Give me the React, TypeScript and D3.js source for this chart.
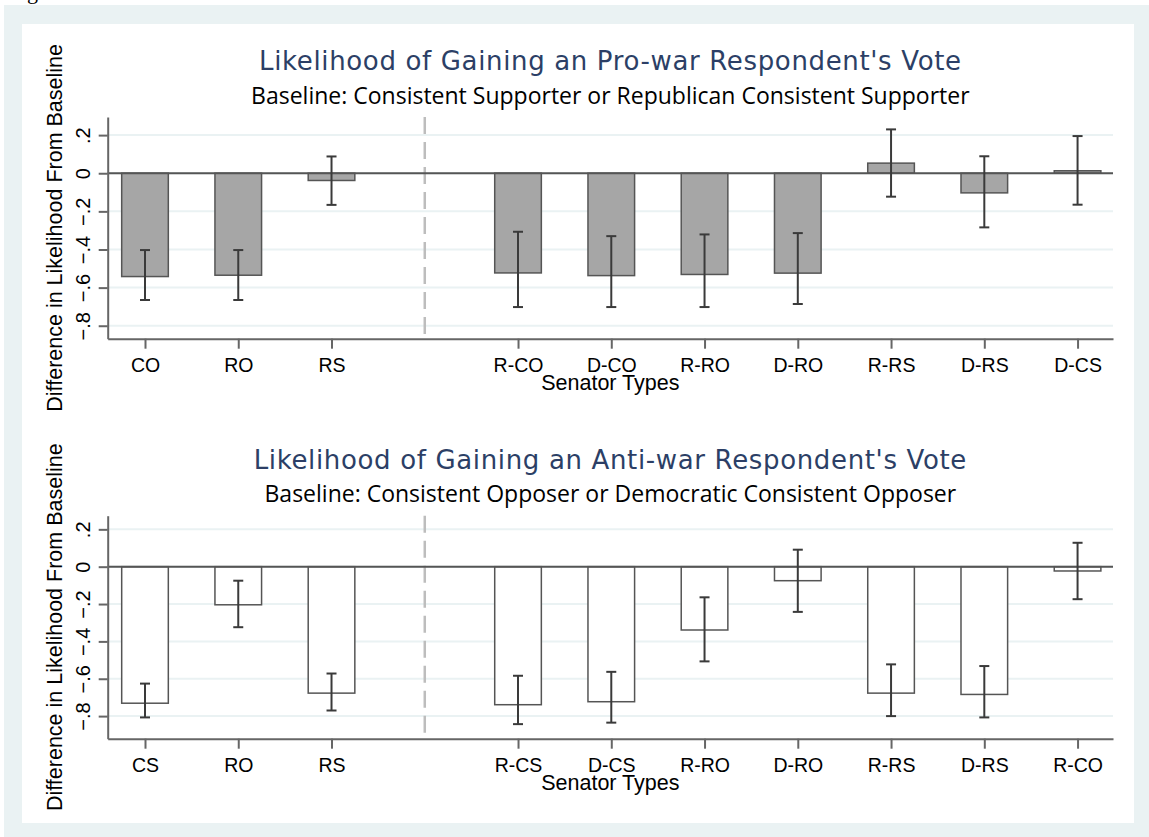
import React, { useRef, useEffect } from "react";
import * as d3 from "d3";

// pro-war panel (baseline: consistent supporter)
const proWarTypes = ["CO", "RO", "RS", "R-CO", "D-CO", "R-RO", "D-RO", "R-RS", "D-RS", "D-CS"];
const proWarEst = [-0.542, -0.535, -0.038, -0.523, -0.537, -0.531, -0.524, 0.053, -0.103, 0.013];
const proWarLow = [-0.665, -0.665, -0.166, -0.702, -0.702, -0.702, -0.686, -0.123, -0.284, -0.165];
const proWarHigh = [-0.403, -0.403, 0.088, -0.307, -0.33, -0.321, -0.314, 0.23, 0.089, 0.195];

// anti-war panel (baseline: consistent opposer)
const antiWarTypes = ["CS", "RO", "RS", "R-CS", "D-CS", "R-RO", "D-RO", "R-RS", "D-RS", "R-CO"];
const antiWarEst = [-0.731, -0.204, -0.677, -0.739, -0.723, -0.339, -0.075, -0.677, -0.684, -0.023];
const antiWarLow = [-0.807, -0.324, -0.77, -0.843, -0.835, -0.507, -0.242, -0.8, -0.807, -0.174];
const antiWarHigh = [-0.626, -0.075, -0.572, -0.584, -0.563, -0.164, 0.091, -0.523, -0.532, 0.128];

const yTicks = [0.2, 0, -0.2, -0.4, -0.6, -0.8];
const xTitle = "Senator Types";
const yTitle = "Difference in Likelihood From Baseline";

const W = 1149;
const H = 837;
const bluish = "#eaf2f3";
const sans = "'Liberation Sans', Arial, sans-serif";

// first 3 types are the plain ones, then a gap slot for the dashed divider
const slot = (i: number) => (i < 3 ? i + 1 : i + 2);

const stataFmt = (d: number) => (d === 0 ? "0" : d3.format(".1f")(d).replace("0.", "."));

function drawPanel(svg: any, p: any) {
  const plotLeft = 107.7;
  const plotRight = 1113;

  const x = d3.scaleLinear().domain([0.6, 11.38]).range([plotLeft, plotRight]);
  const y = d3.scaleLinear().domain(p.yDomain).range([p.bottom, p.top]);

  const g = svg.append("g");

  // grid
  g.append("g")
    .selectAll("line")
    .data(yTicks)
    .join("line")
    .attr("x1", plotLeft)
    .attr("x2", plotRight)
    .attr("y1", (d: number) => y(d))
    .attr("y2", (d: number) => y(d))
    .attr("stroke", bluish)
    .attr("stroke-width", 2);

  // divider
  g.append("line")
    .attr("x1", x(4))
    .attr("x2", x(4))
    .attr("y1", p.top)
    .attr("y2", p.bottom)
    .attr("stroke", "#bdbdbd")
    .attr("stroke-width", 2.5)
    .attr("stroke-dasharray", "17,8");

  const rows = p.types.map((t: string, i: number) => ({
    t,
    pos: slot(i),
    v: p.est[i],
    lo: p.low[i],
    hi: p.high[i],
  }));

  // bars
  g.append("g")
    .selectAll("rect")
    .data(rows)
    .join("rect")
    .attr("x", (d: any) => x(d.pos - 0.25))
    .attr("width", x(1.25) - x(0.75))
    .attr("y", (d: any) => y(Math.max(0, d.v)))
    .attr("height", (d: any) => Math.abs(y(d.v) - y(0)))
    .attr("fill", p.fill)
    .attr("stroke", "#555")
    .attr("stroke-width", 1.5);

  // zero line
  g.append("line")
    .attr("x1", plotLeft)
    .attr("x2", plotRight)
    .attr("y1", y(0))
    .attr("y2", y(0))
    .attr("stroke", "#555")
    .attr("stroke-width", 2);

  // error bars
  const eb = g.append("g").attr("stroke", "#3a3a3a").attr("stroke-width", 2);
  rows.forEach((d: any) => {
    const cx = x(d.pos);
    eb.append("line").attr("x1", cx).attr("x2", cx).attr("y1", y(d.lo)).attr("y2", y(d.hi));
    eb.append("line").attr("x1", cx - 5).attr("x2", cx + 5).attr("y1", y(d.lo)).attr("y2", y(d.lo));
    eb.append("line").attr("x1", cx - 5).attr("x2", cx + 5).attr("y1", y(d.hi)).attr("y2", y(d.hi));
  });

  // y axis
  const ya = g.append("g")
    .attr("transform", `translate(${plotLeft},0)`)
    .call(d3.axisLeft(y).tickValues(yTicks).tickSize(9).tickSizeOuter(0).tickFormat(stataFmt as any));
  ya.selectAll("path, line").attr("stroke", "#666").attr("stroke-width", 2);
  ya.selectAll("text")
    .attr("x", 0)
    .attr("dy", 0)
    .attr("y", -18)
    .attr("transform", "rotate(-90)")
    .attr("text-anchor", "middle")
    .attr("font-family", sans)
    .attr("font-size", 20)
    .attr("fill", "#000");

  // x axis
  const xa = g.append("g")
    .attr("transform", `translate(0,${p.bottom})`)
    .call(
      d3.axisBottom(x)
        .tickValues(rows.map((d: any) => d.pos))
        .tickSize(10)
        .tickSizeOuter(0)
        .tickFormat((_d: any, i: number) => p.types[i])
    );
  xa.selectAll("path, line").attr("stroke", "#666").attr("stroke-width", 2);
  xa.selectAll("text")
    .attr("y", 19)
    .attr("font-family", sans)
    .attr("font-size", 19.5)
    .attr("fill", "#000");

  // titles
  const cx = (plotLeft + plotRight) / 2;
  g.append("text")
    .attr("x", cx)
    .attr("y", p.top - 47)
    .attr("text-anchor", "middle")
    .attr("font-family", "'DejaVu Sans', Verdana, sans-serif")
    .attr("font-size", 26)
    .attr("letter-spacing", 0.65)
    .attr("fill", "#2c3f66")
    .text(p.title);

  g.append("text")
    .attr("x", cx)
    .attr("y", p.top - 13.5)
    .attr("text-anchor", "middle")
    .attr("font-family", "'Open Sans', sans-serif")
    .attr("font-size", 23)
    .attr("fill", "#000")
    .text(p.subtitle);

  g.append("text")
    .attr("x", cx)
    .attr("y", p.bottom + 51)
    .attr("text-anchor", "middle")
    .attr("font-family", sans)
    .attr("font-size", 21.5)
    .attr("fill", "#000")
    .text(xTitle);

  g.append("text")
    .attr("transform", `translate(62,${(p.top + p.bottom) / 2}) rotate(-90)`)
    .attr("text-anchor", "middle")
    .attr("font-family", sans)
    .attr("font-size", 21.5)
    .attr("fill", "#000")
    .text(yTitle);
}

const App = () => {
  const svgRef = useRef<SVGSVGElement>(null);

  useEffect(() => {
    const svg = d3.select(svgRef.current);
    svg.selectAll("*").remove();

    svg.append("rect").attr("width", W).attr("height", H).attr("fill", "#fff");
    // cut-off caption glyph at the very top
    svg.append("text")
      .attr("x", 27)
      .attr("y", -1)
      .attr("font-family", "'Liberation Serif', serif")
      .attr("font-size", 22)
      .attr("fill", "#000")
      .text("g");
    svg.append("rect").attr("x", 4).attr("y", 5).attr("width", W - 4).attr("height", H - 5).attr("fill", bluish);
    svg.append("rect").attr("x", 22).attr("y", 24).attr("width", 1134 - 22).attr("height", 823 - 24).attr("fill", "#fff");

    drawPanel(svg, {
      top: 117,
      bottom: 338.7,
      yDomain: [-0.868, 0.295],
      types: proWarTypes,
      est: proWarEst,
      low: proWarLow,
      high: proWarHigh,
      fill: "#a6a6a6",
      title: "Likelihood of Gaining an Pro-war Respondent's Vote",
      subtitle: "Baseline: Consistent Supporter or Republican Consistent Supporter",
    });

    drawPanel(svg, {
      top: 515.7,
      bottom: 738.7,
      yDomain: [-0.921, 0.273],
      types: antiWarTypes,
      est: antiWarEst,
      low: antiWarLow,
      high: antiWarHigh,
      fill: "#fff",
      title: "Likelihood of Gaining an Anti-war Respondent's Vote",
      subtitle: "Baseline: Consistent Opposer or Democratic Consistent Opposer",
    });
  }, []);

  return (
    <svg
      ref={svgRef}
      width={W}
      height={H}
      style={{ position: "absolute", left: 0, top: 0, display: "block" }}
    />
  );
};

export default App;
